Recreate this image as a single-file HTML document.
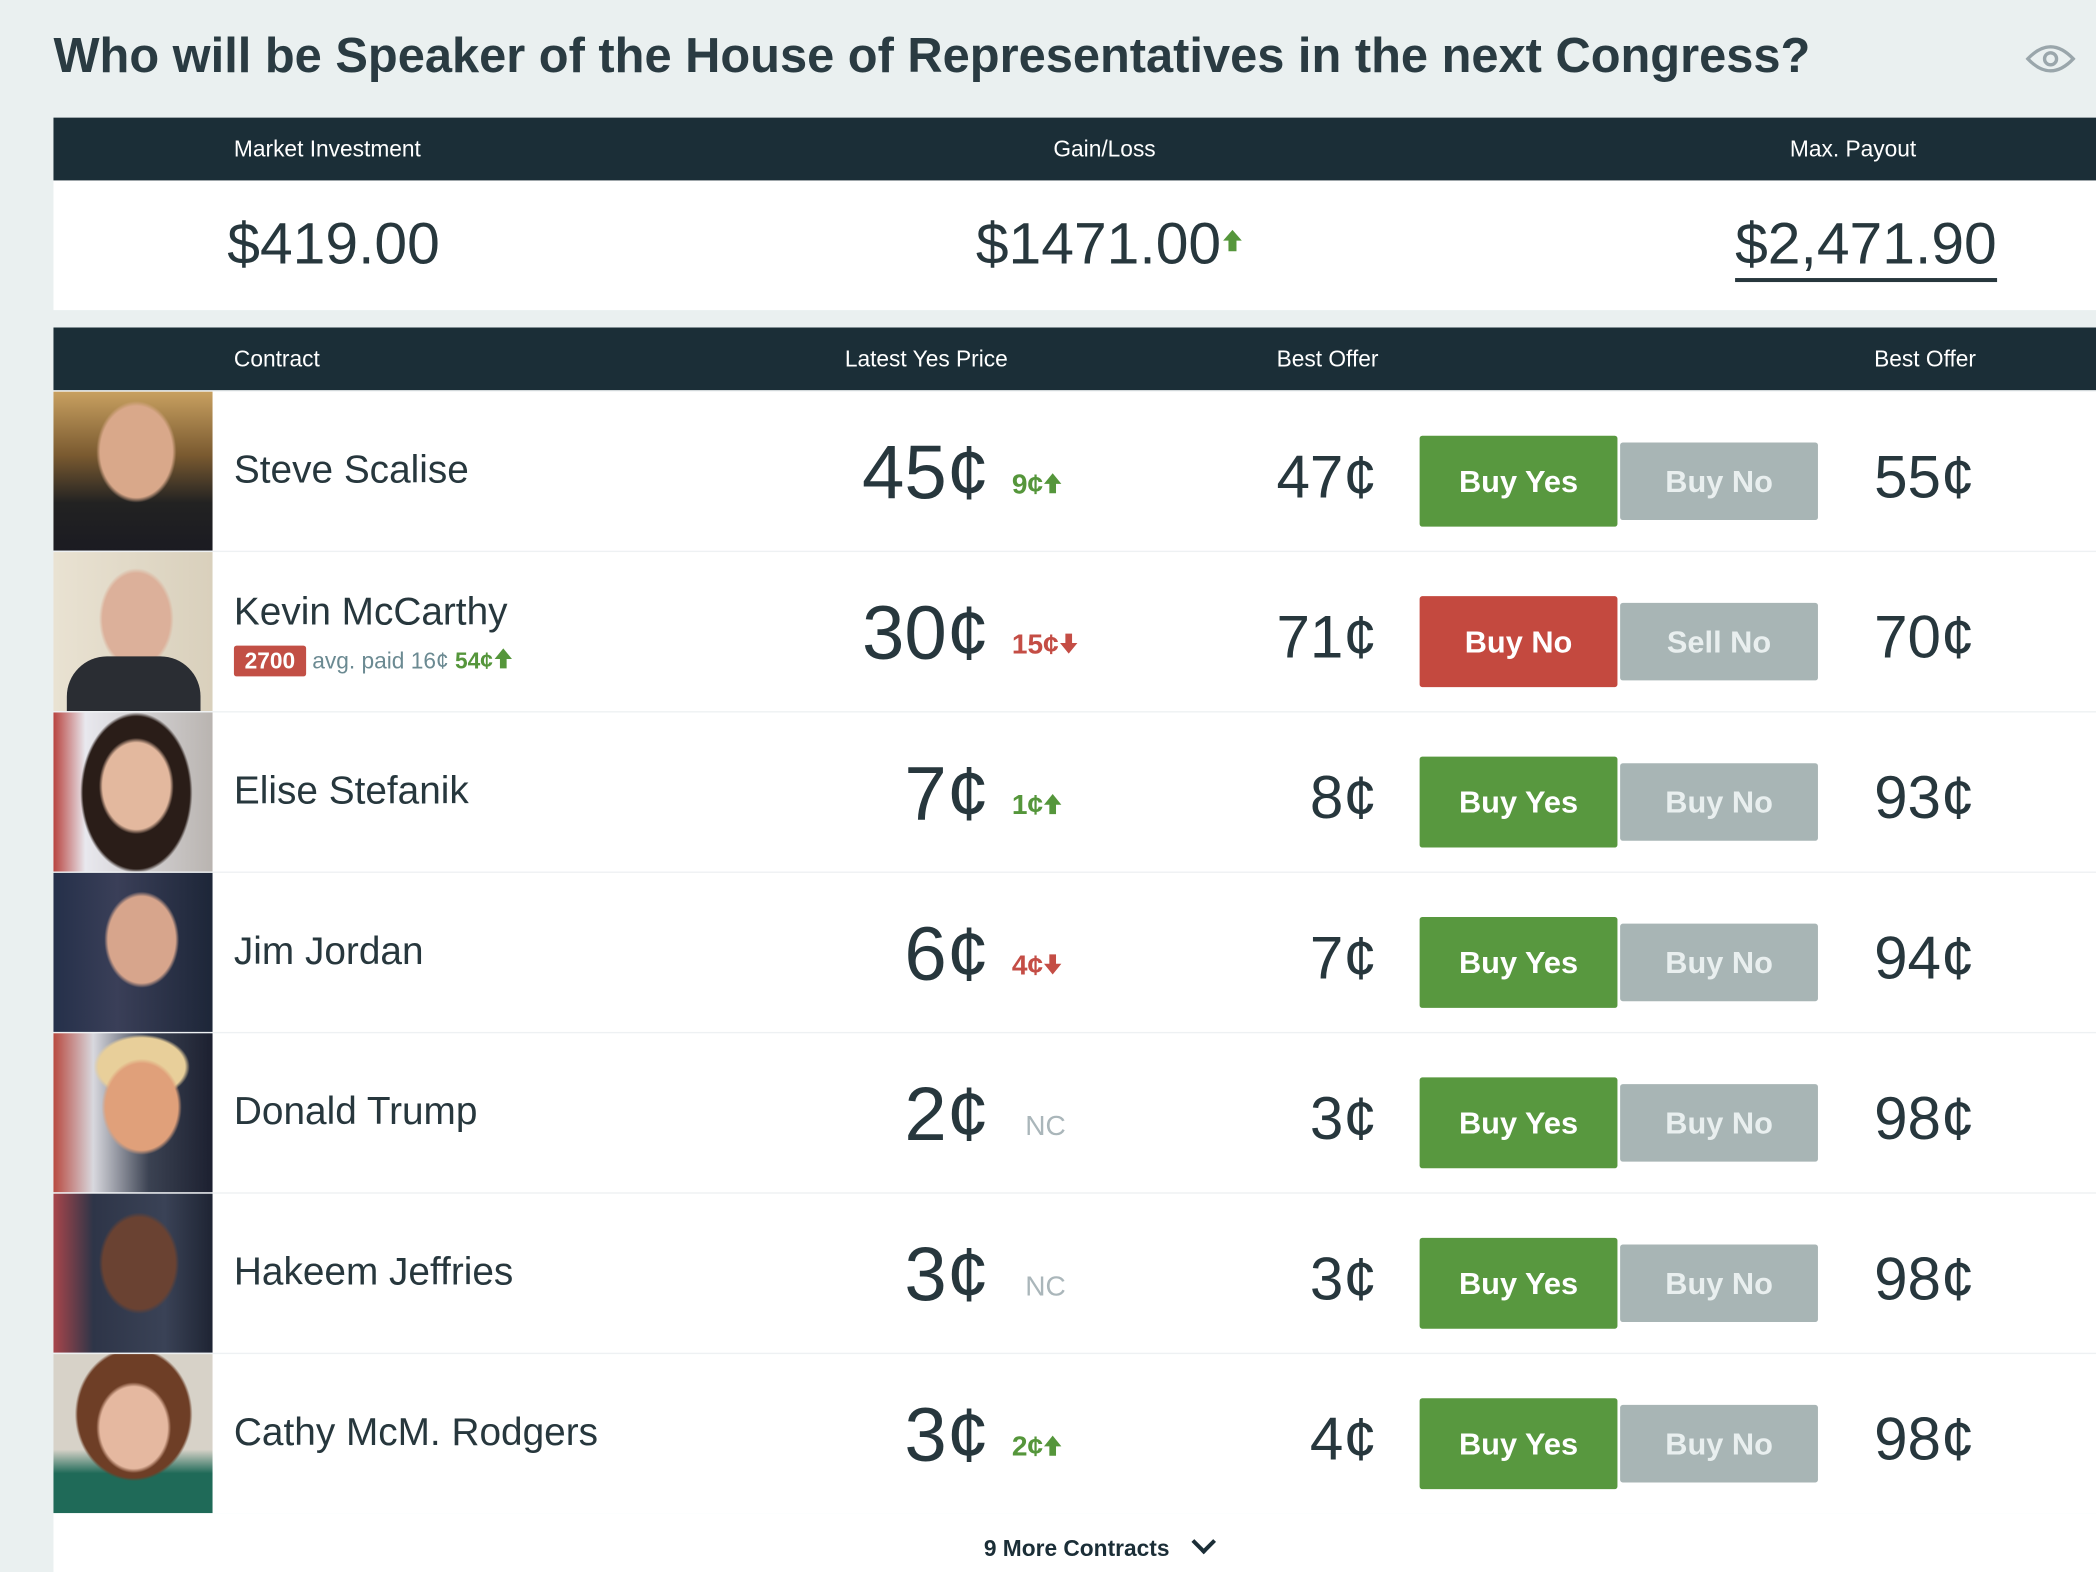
<!DOCTYPE html>
<html><head><meta charset="utf-8"><style>
html,body{margin:0;padding:0;width:2096px;height:1572px;overflow:hidden;background:#eaf0f0;}
#w{position:absolute;left:0;top:0;width:1568px;height:1176px;transform:scale(1.336735);transform-origin:0 0;font-family:"Liberation Sans",sans-serif;color:#27373d;}
.a{position:absolute;white-space:nowrap;}
.bar{position:absolute;left:40px;width:1528px;height:47px;background:#1b2e37;}
.bar span{position:absolute;top:14px;color:#fff;font-size:17px;}
.row{position:absolute;left:40px;width:1528px;height:119px;background:#fff;border-top:1px solid #eef1f3;}
.ph{position:absolute;left:0;top:0;width:119px;height:119px;}
.nm{position:absolute;left:135px;font-size:29px;font-weight:300;}
.pr{position:absolute;right:828px;top:28px;font-size:57px;font-weight:300;}
.ch{position:absolute;left:717px;top:58px;font-size:21px;font-weight:bold;}
.g{color:#55963b}.r{color:#c44d45}.nc{color:#aab6ba;font-weight:normal}
.bo{position:absolute;right:538px;top:38px;font-size:45px;font-weight:300;}
.by{position:absolute;left:1022px;top:33px;width:148px;height:68px;background:#58983f;color:#fff;font-weight:bold;font-size:23px;text-align:center;line-height:68px;border-radius:2px;}
.bn{position:absolute;left:1172px;top:38px;width:148px;height:58px;background:#a8b5b5;color:#e9efef;font-weight:bold;font-size:23px;text-align:center;line-height:58px;border-radius:2px;}
.bo2{position:absolute;left:1362px;top:38px;font-size:45px;font-weight:300;}
svg.u,svg.d{width:15px;height:17px;vertical-align:-1px;}
</style></head><body><div id="w">
<div class="a" style="left:40px;top:21px;font-size:36.5px;font-weight:bold;color:#2a3b42;">Who will be Speaker of the House of Representatives in the next Congress?</div>
<svg class="a" style="left:1515px;top:30px" width="38" height="28"><path d="M2 14 Q19 -4 36 14 Q19 32 2 14Z" fill="none" stroke="#9aa6ab" stroke-width="2.5"/><circle cx="19" cy="14" r="4.5" fill="none" stroke="#9aa6ab" stroke-width="2.5"/></svg>
<div class="bar" style="top:88px"><span style="left:135px">Market Investment</span><span style="left:748px">Gain/Loss</span><span style="left:1299px">Max. Payout</span></div>
<div class="a" style="left:40px;top:135px;width:1528px;height:97px;background:#fff;"></div>
<div class="a" style="left:170px;top:158px;font-size:44px;font-weight:300;">$419.00</div>
<div class="a" style="left:730px;top:158px;font-size:44px;font-weight:300;">$1471.00<svg width="16" height="18" style="vertical-align:8px"><path d="M8 1 L15 9 L11 9 L11 17 L5 17 L5 9 L1 9Z" fill="#55963b"/></svg></div>
<div class="a" style="left:1298px;top:158px;font-size:44px;font-weight:300;border-bottom:3px solid #27373d;line-height:50px;">$2,471.90</div>
<div class="bar" style="top:245px"><span style="left:135px">Contract</span><span style="left:592px">Latest Yes Price</span><span style="left:915px">Best Offer</span><span style="left:1362px">Best Offer</span></div>

<div class="row" style="top:292px"><div class="ph" style="background:radial-gradient(ellipse 30px 38px at 62px 45px,#d9a88a 90%,transparent 100%),linear-gradient(#c8a060,#7a5a30 40%,#222 70%,#1b1b22)"></div><div class="nm" style="top:43px">Steve Scalise</div><div class="pr">45¢</div><div class="ch g">9¢<svg class="u"><path d="M7.5 1 L14 9 L10 9 L10 16 L5 16 L5 9 L1 9Z" fill="#55963b"/></svg></div><div class="bo">47¢</div><div class="by">Buy Yes</div><div class="bn">Buy No</div><div class="bo2">55¢</div></div>
<div class="row" style="top:412px"><div class="ph" style="background:radial-gradient(ellipse 28px 38px at 62px 50px,#dcb09a 90%,transparent 100%),linear-gradient(90deg,#e9e2d2,#d9d0bc);"><div style="position:absolute;left:10px;top:78px;width:100px;height:41px;background:#2a2d33;border-radius:30px 30px 0 0"></div></div><div class="nm" style="top:29px">Kevin McCarthy</div>
<div class="a" style="left:135px;top:71px;font-size:17px;"><span style="background:#c24f45;color:#fff;font-weight:bold;padding:2px 8px;border-radius:2px">2700</span> <span style="color:#6b8a92">avg. paid 16¢</span> <span class="g" style="font-weight:bold">54¢<svg class="u"><path d="M7.5 1 L14 9 L10 9 L10 16 L5 16 L5 9 L1 9Z" fill="#55963b"/></svg></span></div>
<div class="pr">30¢</div><div class="ch r">15¢<svg class="d"><path d="M7.5 16 L14 8 L10 8 L10 1 L5 1 L5 8 L1 8Z" fill="#c44d45"/></svg></div><div class="bo">71¢</div><div class="by" style="background:#c4493f">Buy No</div><div class="bn">Sell No</div><div class="bo2">70¢</div></div>
<div class="row" style="top:532px"><div class="ph" style="background:radial-gradient(ellipse 28px 36px at 62px 55px,#e3b89e 90%,transparent 100%),radial-gradient(ellipse 42px 60px at 62px 60px,#2a1d18 95%,transparent 100%),linear-gradient(90deg,#b8433f,#e8e8ee 20%,#b9b4b0)"></div><div class="nm" style="top:43px">Elise Stefanik</div><div class="pr">7¢</div><div class="ch g">1¢<svg class="u"><path d="M7.5 1 L14 9 L10 9 L10 16 L5 16 L5 9 L1 9Z" fill="#55963b"/></svg></div><div class="bo">8¢</div><div class="by">Buy Yes</div><div class="bn">Buy No</div><div class="bo2">93¢</div></div>
<div class="row" style="top:652px"><div class="ph" style="background:radial-gradient(ellipse 28px 36px at 66px 50px,#d7a58c 90%,transparent 100%),linear-gradient(90deg,#25304a,#3a3f58 40%,#1d2638)"></div><div class="nm" style="top:43px">Jim Jordan</div><div class="pr">6¢</div><div class="ch r">4¢<svg class="d"><path d="M7.5 16 L14 8 L10 8 L10 1 L5 1 L5 8 L1 8Z" fill="#c44d45"/></svg></div><div class="bo">7¢</div><div class="by">Buy Yes</div><div class="bn">Buy No</div><div class="bo2">94¢</div></div>
<div class="row" style="top:772px"><div class="ph" style="background:radial-gradient(ellipse 30px 36px at 66px 55px,#e0a07a 90%,transparent 100%),radial-gradient(ellipse 36px 24px at 66px 25px,#e8cf9a 90%,transparent 100%),linear-gradient(90deg,#b84a40,#d8d8de 25%,#3b4252 60%,#1c2030)"></div><div class="nm" style="top:43px">Donald Trump</div><div class="pr">2¢</div><div class="ch nc" style="left:727px">NC</div><div class="bo">3¢</div><div class="by">Buy Yes</div><div class="bn">Buy No</div><div class="bo2">98¢</div></div>
<div class="row" style="top:892px"><div class="ph" style="background:radial-gradient(ellipse 30px 38px at 64px 52px,#6a4232 90%,transparent 100%),linear-gradient(90deg,#a8454a,#2e3548 25%,#3a4256 70%,#1e2433)"></div><div class="nm" style="top:43px">Hakeem Jeffries</div><div class="pr">3¢</div><div class="ch nc" style="left:727px">NC</div><div class="bo">3¢</div><div class="by">Buy Yes</div><div class="bn">Buy No</div><div class="bo2">98¢</div></div>
<div class="row" style="top:1012px"><div class="ph" style="background:radial-gradient(ellipse 28px 34px at 60px 55px,#e5b8a0 90%,transparent 100%),radial-gradient(ellipse 44px 50px at 60px 45px,#6e3e26 95%,transparent 100%),linear-gradient(#d7d2c8 60%,#1f6a58 75%)"></div><div class="nm" style="top:43px">Cathy McM. Rodgers</div><div class="pr">3¢</div><div class="ch g">2¢<svg class="u"><path d="M7.5 1 L14 9 L10 9 L10 16 L5 16 L5 9 L1 9Z" fill="#55963b"/></svg></div><div class="bo">4¢</div><div class="by">Buy Yes</div><div class="bn">Buy No</div><div class="bo2">98¢</div></div>
<div class="a" style="left:40px;top:1132px;width:1528px;height:44px;background:#fff;"></div>
<div class="a" style="left:736px;top:1149px;font-size:17px;font-weight:bold;color:#1b2e37;">9 More Contracts <span style="display:inline-block;width:10px;height:10px;border-right:3px solid #1b2e37;border-bottom:3px solid #1b2e37;transform:rotate(45deg);margin-left:14px;position:relative;top:-4px"></span></div>
</div></body></html>
